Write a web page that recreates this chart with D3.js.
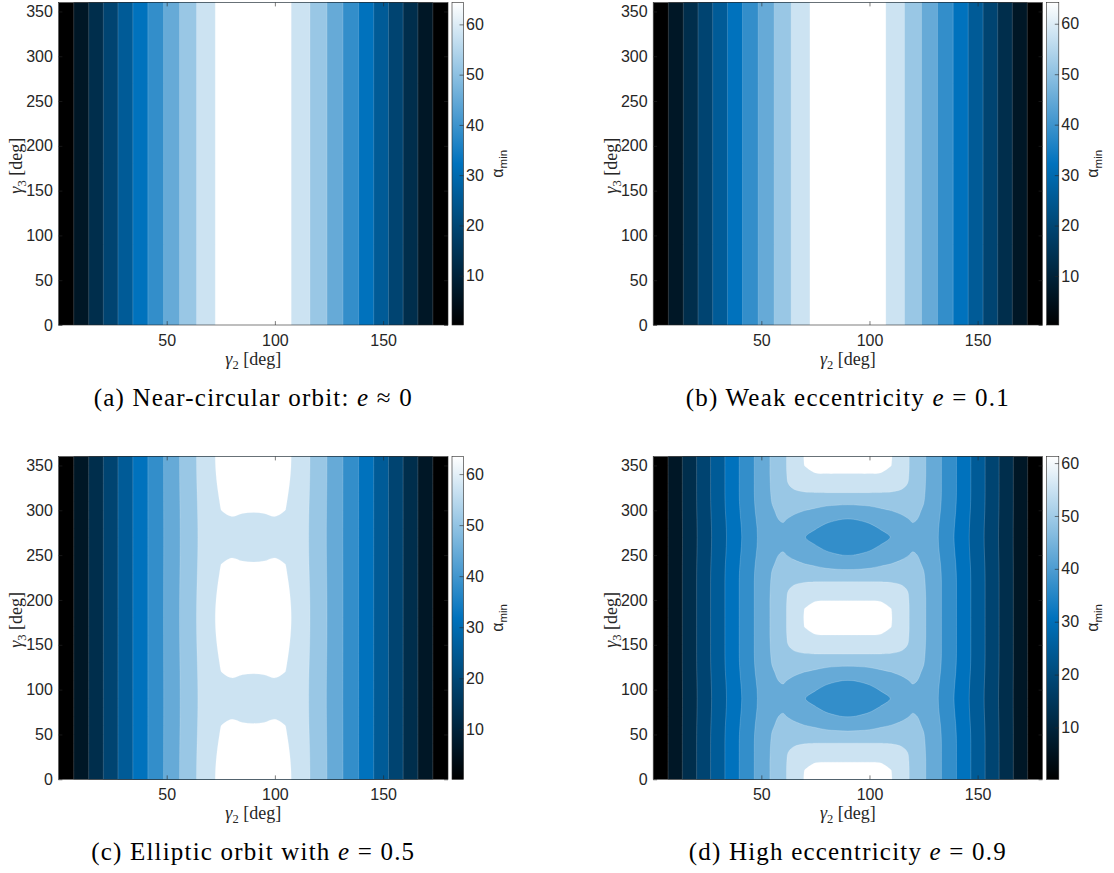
<!DOCTYPE html>
<html>
<head>
<meta charset="utf-8">
<script src="https://cdn.jsdelivr.net/npm/d3@7/dist/d3.min.js"></script>
<style>
  html, body { margin: 0; padding: 0; background: #fff; }
  svg { display: block; }
</style>
</head>
<body>
<svg id="fig" width="1114" height="873"></svg>
<script>
// ---------------------------------------------------------------------------
// Sample nodes (degrees). The field is symmetric about gamma2 = 90 deg and,
// in gamma3, symmetric about 0 and 90 deg with a 180 deg period, so only the
// quarter gamma2 in [0, 90], gamma3 in [0, 90] is listed.
// ---------------------------------------------------------------------------
const gamma2Nodes = [0, 5, 10, 15, 20, 25, 30, 35, 40, 45, 50, 55, 60, 65, 70, 75, 80, 85, 90];
const gamma3Nodes = [0, 10, 20, 30, 40, 50, 60, 70, 80, 90];
const gamma3Flat  = [0, 90];   // cases that do not depend on gamma3

// (a) e ~ 0 : alpha_min along gamma2
const alphaA = [0.2, 4.15, 8.35, 12.60, 16.91, 21.26, 25.56, 29.80, 34.04, 38.11,
                42.10, 46.09, 49.89, 53.54, 56.82, 60.26, 62.36, 63.82, 64.35];
// (b) e = 0.1 : alpha_min along gamma2
const alphaB = [0.3, 4.42, 8.60, 12.81, 17.09, 21.41, 25.69, 29.90, 34.11, 38.15,
                42.11, 46.07, 49.85, 53.47, 56.73, 60.14, 62.23, 63.69, 64.21];

// (c) e = 0.5 : one row per gamma3 node (0..90), columns gamma2 = 0..90
const alphaC = [
  [0.2, 4.28, 8.41, 12.59, 16.82, 21.10, 25.33, 29.49, 33.66, 37.66, 41.58, 45.50, 49.24, 52.82, 56.05, 59.43, 61.50, 62.93, 63.45],
  [0.2, 4.28, 8.41, 12.59, 16.82, 21.10, 25.33, 29.49, 33.66, 37.66, 41.58, 45.49, 49.23, 52.81, 56.00, 59.36, 61.42, 62.85, 63.36],
  [0.2, 4.28, 8.41, 12.59, 16.82, 21.10, 25.33, 29.49, 33.66, 37.66, 41.57, 45.48, 49.21, 52.77, 55.85, 59.15, 61.19, 62.59, 63.11],
  [0.2, 4.28, 8.41, 12.59, 16.82, 21.10, 25.33, 29.49, 33.66, 37.66, 41.57, 45.46, 49.17, 52.71, 55.62, 58.85, 60.85, 62.21, 62.73],
  [0.2, 4.28, 8.41, 12.59, 16.82, 21.10, 25.33, 29.49, 33.66, 37.66, 41.56, 45.43, 49.12, 52.63, 55.34, 58.48, 60.43, 61.73, 62.24],
  [0.2, 4.28, 8.41, 12.59, 16.82, 21.10, 25.33, 29.49, 33.66, 37.66, 41.55, 45.40, 49.07, 52.55, 55.04, 58.07, 59.98, 60.90, 60.69],
  [0.2, 4.28, 8.41, 12.59, 16.82, 21.10, 25.33, 29.49, 33.66, 37.66, 41.54, 45.37, 49.02, 52.47, 54.76, 57.64, 58.96, 58.33, 58.13],
  [0.2, 4.28, 8.41, 12.59, 16.82, 21.10, 25.33, 29.49, 33.66, 37.66, 41.53, 45.35, 48.99, 52.41, 54.53, 57.40, 57.13, 56.50, 56.29],
  [0.2, 4.28, 8.41, 12.59, 16.82, 21.10, 25.33, 29.49, 33.66, 37.66, 41.52, 45.33, 48.96, 52.37, 54.38, 57.06, 56.02, 55.40, 55.19],
  [0.2, 4.28, 8.41, 12.59, 16.82, 21.10, 25.33, 29.49, 33.66, 37.66, 41.52, 45.33, 48.95, 52.36, 54.32, 56.69, 55.66, 55.03, 54.83]
];

// (d) e = 0.9 : one row per gamma3 node (0..90), columns gamma2 = 0..90
const alphaD = [
  [0.2, 4.20, 8.33, 12.60, 16.79, 21.11, 25.32, 29.50, 33.68, 37.70, 41.60, 45.39, 49.00, 52.51, 55.98, 58.20, 59.86, 60.86, 61.25],
  [0.2, 4.20, 8.33, 12.60, 16.79, 21.11, 25.32, 29.50, 33.68, 37.70, 41.60, 45.39, 49.00, 52.51, 55.77, 57.09, 58.03, 58.75, 59.03],
  [0.2, 4.20, 8.33, 12.60, 16.79, 21.11, 25.32, 29.50, 33.68, 37.70, 41.60, 45.39, 48.93, 52.37, 54.31, 55.42, 55.45, 55.39, 55.34],
  [0.2, 4.20, 8.33, 12.60, 16.79, 21.11, 25.32, 29.50, 33.68, 37.70, 41.60, 45.26, 48.76, 51.65, 52.37, 52.70, 52.81, 52.86, 52.86],
  [0.2, 4.20, 8.33, 12.60, 16.79, 21.11, 25.32, 29.50, 33.68, 37.70, 41.60, 45.09, 47.93, 49.32, 50.04, 50.21, 50.26, 50.28, 50.28],
  [0.2, 4.20, 8.33, 12.60, 16.77, 21.08, 25.28, 29.44, 33.61, 37.61, 41.49, 44.79, 46.54, 47.38, 47.65, 47.38, 46.82, 46.27, 46.03],
  [0.2, 4.20, 8.33, 12.58, 16.73, 21.01, 25.17, 29.30, 33.42, 37.37, 41.27, 44.21, 45.99, 45.71, 44.71, 43.77, 42.66, 42.38, 42.32],
  [0.2, 4.20, 8.33, 12.55, 16.66, 20.90, 25.01, 29.09, 33.16, 37.04, 40.88, 43.82, 45.16, 43.49, 41.55, 40.16, 39.49, 39.16, 38.94],
  [0.2, 4.20, 8.33, 12.52, 16.60, 20.81, 24.88, 28.91, 32.91, 36.74, 40.55, 42.94, 43.66, 42.10, 40.16, 39.16, 38.55, 38.22, 37.94],
  [0.2, 4.20, 8.33, 12.52, 16.57, 20.79, 24.81, 28.84, 32.78, 36.61, 40.44, 42.82, 43.49, 41.55, 39.11, 38.38, 37.94, 37.77, 37.66]
];

// Contour levels and colour limits of each case
const levelsA = [5.85, 11.70, 17.55, 23.40, 29.25, 35.10, 40.95, 46.80, 52.65, 58.50];
const levelsB = [6.11, 11.92, 17.73, 23.54, 29.35, 35.16, 40.97, 46.78, 52.59, 58.40];
const levelsC = [5.95, 11.70, 17.45, 23.20, 28.95, 34.70, 40.45, 46.20, 51.95, 57.70];
const levelsD = [5.75, 11.30, 16.85, 22.40, 27.95, 33.50, 39.05, 44.60, 50.15, 55.70];
const limitsA = [0.2, 64.35];
const limitsB = [0.3, 64.21];
const limitsC = [0.2, 63.45];
const limitsD = [0.2, 61.25];

// Tick values
const xTicks = [50, 100, 150];
const yTicks = [0, 50, 100, 150, 200, 250, 300, 350];
const cbTicks = [10, 20, 30, 40, 50, 60];

// Captions: [text before e, text after e]
const captionA = ["(a) Near-circular orbit: ", " \u2248 0"];
const captionB = ["(b) Weak eccentricity ", " = 0.1"];
const captionC = ["(c) Elliptic orbit with ", " = 0.5"];
const captionD = ["(d) High eccentricity ", " = 0.9"];

// ---------------------------------------------------------------------------
const sans  = '"Liberation Sans", Arial, Helvetica, sans-serif';
const serif = '"Liberation Serif", "Times New Roman", serif';
const ink = "#262626";
const cmap = d3.piecewise(d3.interpolateRgb, ["#000000", "#0072bd", "#ffffff"]);

const panels = [
  { rows: [alphaA, alphaA], g3: gamma3Flat,  levels: levelsA, limits: limitsA, caption: captionA, plot: [58.5, 448, 2.5, 325],     cb: [452, 463.5] },
  { rows: [alphaB, alphaB], g3: gamma3Flat,  levels: levelsB, limits: limitsB, caption: captionB, plot: [653.2, 1042.5, 2.5, 325], cb: [1046.7, 1058.8] },
  { rows: alphaC,           g3: gamma3Nodes, levels: levelsC, limits: limitsC, caption: captionC, plot: [58.5, 448, 456.5, 779.3], cb: [452, 463.5] },
  { rows: alphaD,           g3: gamma3Nodes, levels: levelsD, limits: limitsD, caption: captionD, plot: [653.2, 1042.5, 456.5, 779.3], cb: [1046.7, 1058.8] }
];

// fold an angle onto [0, 90] using the symmetries of the field
function fold(g) {
  const t = ((g % 180) + 180) % 180;
  return t <= 90 ? t : 180 - t;
}

// full regular grid over gamma2 in [-s2, 180+s2], gamma3 in [-s3, 360+s3]
function buildGrid(g2, g3, rows) {
  const s2 = g2[1] - g2[0], s3 = g3[1] - g3[0];
  const xs = d3.range(-s2, 180 + s2 + 0.5, s2);
  const ys = d3.range(-s3, 360 + s3 + 0.5, s3);
  const values = [];
  ys.forEach(gy => {
    const row = rows[Math.round(fold(gy) / s3)];
    xs.forEach(gx => values.push(row[Math.round(fold(gx) / s2)]));
  });
  return { xs, ys, s2, s3, values };
}

const svg = d3.select("#fig");
const defs = svg.append("defs");

// colour bar gradient
const grad = defs.append("linearGradient").attr("id", "cbGrad")
  .attr("x1", 0).attr("y1", 1).attr("x2", 0).attr("y2", 0);
d3.range(0, 1.0001, 0.05).forEach(t =>
  grad.append("stop").attr("offset", t).attr("stop-color", cmap(t)));

const ring = d3.line().curve(d3.curveCatmullRomClosed.alpha(0.5));

function styleAxis(sel, size) {
  sel.attr("font-size", null).attr("font-family", null);
  sel.select(".domain").remove();
  sel.selectAll(".tick line").attr("stroke", ink).attr("stroke-width", 0.6);
  sel.selectAll(".tick text").attr("fill", ink).attr("font-family", sans).attr("font-size", size);
}

panels.forEach((p, idx) => {
  const [px0, px1, py0, py1] = p.plot;
  const [cb0, cb1] = p.cb;
  const x = d3.scaleLinear().domain([0, 180]).range([px0, px1]);
  const y = d3.scaleLinear().domain([0, 360]).range([py1, py0]);

  const grid = buildGrid(gamma2Nodes, p.g3, p.rows);
  const bands = d3.contours()
    .size([grid.xs.length, grid.ys.length])
    .thresholds(p.levels)(grid.values);
  const toX = cx => x(grid.xs[0] + (cx - 0.5) * grid.s2);
  const toY = cy => y(grid.ys[0] + (cy - 0.5) * grid.s3);

  const clipId = "clip" + idx;
  defs.append("clipPath").attr("id", clipId)
    .append("rect").attr("x", px0).attr("y", py0)
    .attr("width", px1 - px0).attr("height", py1 - py0);

  const g = svg.append("g").attr("clip-path", `url(#${clipId})`);
  g.append("rect").attr("x", px0).attr("y", py0)
    .attr("width", px1 - px0).attr("height", py1 - py0)
    .attr("fill", cmap(0));

  bands.forEach((c, k) => {
    const d = c.coordinates.map(poly =>
      poly.map(r => ring(r.slice(0, -1).map(([cx, cy]) => [toX(cx), toY(cy)]))).join("")
    ).join("");
    g.append("path").attr("d", d)
      .attr("fill", cmap((k + 1) / p.levels.length))
      .attr("fill-rule", "evenodd")
      .attr("stroke", "#ffffff").attr("stroke-opacity", 0.3).attr("stroke-width", 0.6);
  });

  // axes (ticks pointing inward on all four sides)
  svg.append("g").attr("transform", `translate(0,${py1})`)
    .call(d3.axisBottom(x).tickValues(xTicks).tickSizeInner(-3.9).tickSizeOuter(0).tickPadding(9.3))
    .call(s => styleAxis(s, 16));
  svg.append("g").attr("transform", `translate(0,${py0})`)
    .call(d3.axisTop(x).tickValues(xTicks).tickSizeInner(-3.9).tickSizeOuter(0).tickFormat(""))
    .call(s => styleAxis(s, 16));
  svg.append("g").attr("transform", `translate(${px0},0)`)
    .call(d3.axisLeft(y).tickValues(yTicks).tickSizeInner(-3.9).tickSizeOuter(0).tickPadding(5.6))
    .call(s => styleAxis(s, 16));
  svg.append("g").attr("transform", `translate(${px1},0)`)
    .call(d3.axisRight(y).tickValues(yTicks).tickSizeInner(-3.9).tickSizeOuter(0).tickFormat(""))
    .call(s => styleAxis(s, 16));

  svg.append("rect").attr("x", px0).attr("y", py0)
    .attr("width", px1 - px0).attr("height", py1 - py0)
    .attr("fill", "none").attr("stroke", ink).attr("stroke-width", 0.6);

  // axis titles
  const xt = svg.append("text")
    .attr("x", (px0 + px1) / 2).attr("y", py1 + 40)
    .attr("text-anchor", "middle").attr("font-family", serif).attr("font-size", 18).attr("fill", ink);
  xt.append("tspan").attr("font-style", "italic").text("\u03b3");
  xt.append("tspan").attr("font-size", 12.5).attr("dy", 4).text("2");
  xt.append("tspan").attr("dy", -4).text(" [deg]");

  const yt = svg.append("text")
    .attr("transform", `translate(${px0 - 36.5},${(py0 + py1) / 2 + 2}) rotate(-90)`)
    .attr("text-anchor", "middle").attr("font-family", serif).attr("font-size", 18).attr("fill", ink);
  yt.append("tspan").attr("font-style", "italic").text("\u03b3");
  yt.append("tspan").attr("font-size", 12.5).attr("dy", 4).text("3");
  yt.append("tspan").attr("dy", -4).text(" [deg]");

  // colour bar
  const cy = d3.scaleLinear().domain(p.limits).range([py1, py0]);
  svg.append("rect").attr("x", cb0).attr("y", py0)
    .attr("width", cb1 - cb0).attr("height", py1 - py0)
    .attr("fill", "url(#cbGrad)");
  svg.append("g").attr("transform", `translate(${cb1},0)`)
    .call(d3.axisRight(cy).tickValues(cbTicks).tickSizeInner(-4).tickSizeOuter(0).tickPadding(2.5))
    .call(s => styleAxis(s, 16));
  svg.append("rect").attr("x", cb0).attr("y", py0)
    .attr("width", cb1 - cb0).attr("height", py1 - py0)
    .attr("fill", "none").attr("stroke", ink).attr("stroke-width", 0.6);

  const ct = svg.append("text")
    .attr("transform", `translate(${cb1 + 39},${(py0 + py1) / 2}) rotate(-90)`)
    .attr("text-anchor", "middle").attr("font-family", sans).attr("font-size", 16).attr("fill", ink);
  ct.append("tspan").text("\u03b1");
  ct.append("tspan").attr("font-size", 11.5).attr("dy", 4).text("min");

  // caption
  const cap = svg.append("text")
    .attr("x", (px0 + px1) / 2).attr("y", py1 + 81)
    .attr("text-anchor", "middle").attr("font-family", serif).attr("font-size", 25)
    .attr("letter-spacing", 1.2).attr("fill", "#000");
  cap.append("tspan").text(p.caption[0]);
  cap.append("tspan").attr("font-style", "italic").text("e");
  cap.append("tspan").text(p.caption[1]);
});
</script>
</body>
</html>
